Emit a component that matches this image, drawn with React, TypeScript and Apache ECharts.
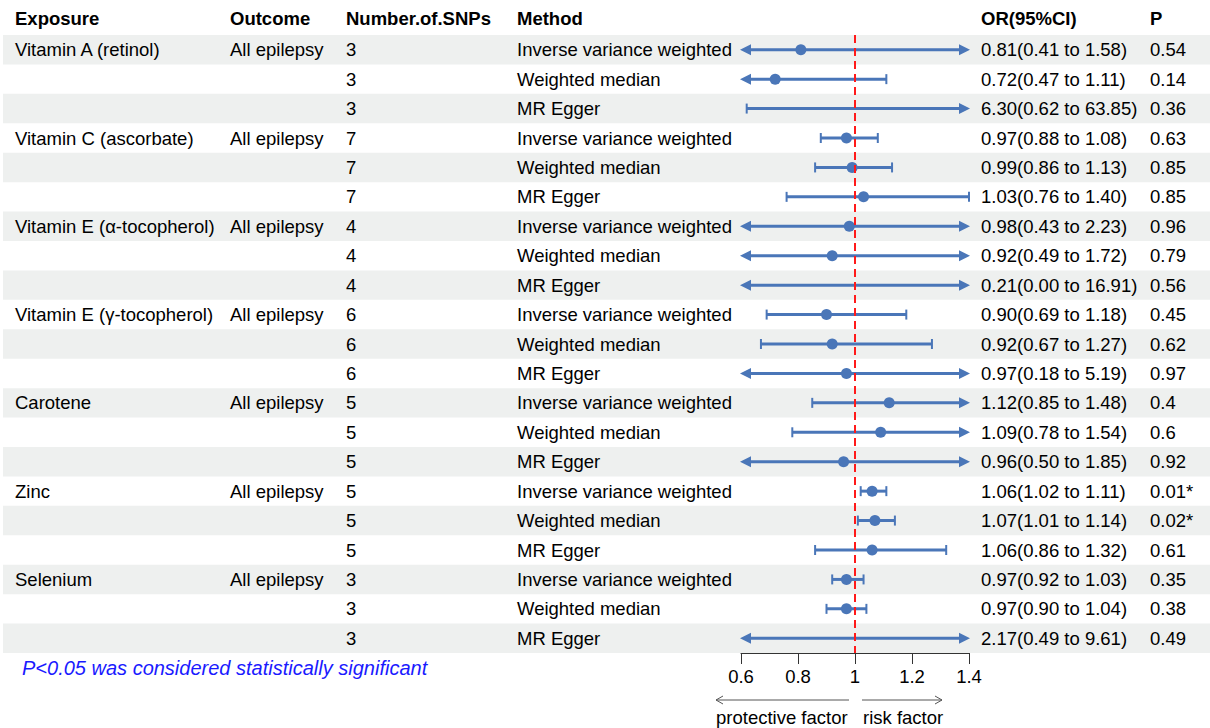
import React, { useEffect, useRef } from "react";
import * as echarts from "echarts";

const FONT = '"Liberation Sans", Arial, sans-serif';
const FS = 18.5;

const headers = ["Exposure", "Outcome", "Number.of.SNPs", "Method", "OR(95%CI)", "P"];

const exposures = [
  "Vitamin A (retinol)", "", "",
  "Vitamin C (ascorbate)", "", "",
  "Vitamin E (α-tocopherol)", "", "",
  "Vitamin E (γ-tocopherol)", "", "",
  "Carotene", "", "",
  "Zinc", "", "",
  "Selenium", "", "",
];
const outcomes = [
  "All epilepsy", "", "",
  "All epilepsy", "", "",
  "All epilepsy", "", "",
  "All epilepsy", "", "",
  "All epilepsy", "", "",
  "All epilepsy", "", "",
  "All epilepsy", "", "",
];
const nSNPs = [3, 3, 3, 7, 7, 7, 4, 4, 4, 6, 6, 6, 5, 5, 5, 5, 5, 5, 3, 3, 3];
const methods = [
  "Inverse variance weighted", "Weighted median", "MR Egger",
  "Inverse variance weighted", "Weighted median", "MR Egger",
  "Inverse variance weighted", "Weighted median", "MR Egger",
  "Inverse variance weighted", "Weighted median", "MR Egger",
  "Inverse variance weighted", "Weighted median", "MR Egger",
  "Inverse variance weighted", "Weighted median", "MR Egger",
  "Inverse variance weighted", "Weighted median", "MR Egger",
];
const orValues = [0.81, 0.72, 6.30, 0.97, 0.99, 1.03, 0.98, 0.92, 0.21, 0.90, 0.92, 0.97, 1.12, 1.09, 0.96, 1.06, 1.07, 1.06, 0.97, 0.97, 2.17];
const lowerCI = [0.41, 0.47, 0.62, 0.88, 0.86, 0.76, 0.43, 0.49, 0.00, 0.69, 0.67, 0.18, 0.85, 0.78, 0.50, 1.02, 1.01, 0.86, 0.92, 0.90, 0.49];
const upperCI = [1.58, 1.11, 63.85, 1.08, 1.13, 1.40, 2.23, 1.72, 16.91, 1.18, 1.27, 5.19, 1.48, 1.54, 1.85, 1.11, 1.14, 1.32, 1.03, 1.04, 9.61];
const pValues = ["0.54", "0.14", "0.36", "0.63", "0.85", "0.85", "0.96", "0.79", "0.56", "0.45", "0.62", "0.97", "0.4", "0.6", "0.92", "0.01*", "0.02*", "0.61", "0.35", "0.38", "0.49"];

const xMin = 0.6;
const xMax = 1.4;
const xInterval = 0.2;
const refValue = 1;

const colX = [15, 230, 346, 517, 981, 1150];
const BLUE = "#4a76b8";

export default function App() {
  const ref = useRef<HTMLDivElement>(null);
  useEffect(() => {
    if (!ref.current) return;
    const chart = echarts.init(ref.current, null, { renderer: "svg" });
    const rowIdx = methods.map((_, i) => String(i));
    const fmt = (v: number) => v.toFixed(2);

    const option: any = {
      animation: false,
      grid: { left: 741, width: 228, top: 35, height: 618 },
      xAxis: {
        type: "value",
        min: xMin,
        max: xMax,
        interval: xInterval,
        axisLine: { show: true, lineStyle: { color: "#333", width: 1 } },
        axisTick: { show: true, length: 11, lineStyle: { color: "#333", width: 1 } },
        axisLabel: {
          fontSize: FS,
          color: "#000",
          fontFamily: FONT,
          margin: 14,
          formatter: (v: number) => String(+v.toFixed(1)),
        },
        splitLine: { show: false },
      },
      yAxis: { type: "category", data: rowIdx, inverse: true, show: false },
      graphic: [
        ...headers.map((h, k) => ({
          type: "text",
          x: colX[k],
          y: 18,
          style: {
            text: h,
            font: `bold ${FS}px ${FONT}`,
            fill: "#000",
            verticalAlign: "middle",
            align: "left",
          },
        })),
        {
          type: "text",
          x: 22,
          y: 668,
          style: {
            text: "P<0.05 was considered statistically significant",
            font: `italic 20px ${FONT}`,
            fill: "#1a1aff",
            verticalAlign: "middle",
            align: "left",
          },
        },
        { type: "line", shape: { x1: 716, y1: 700, x2: 849, y2: 700 }, style: { stroke: "#555", lineWidth: 1 } },
        { type: "polyline", shape: { points: [[723, 696], [716, 700], [723, 704]] }, style: { stroke: "#555", lineWidth: 1, fill: null } },
        { type: "line", shape: { x1: 862, y1: 700, x2: 942, y2: 700 }, style: { stroke: "#555", lineWidth: 1 } },
        { type: "polyline", shape: { points: [[935, 696], [942, 700], [935, 704]] }, style: { stroke: "#555", lineWidth: 1, fill: null } },
        {
          type: "text",
          x: 716,
          y: 717,
          style: { text: "protective factor", font: `${FS}px ${FONT}`, fill: "#000", verticalAlign: "middle", align: "left" },
        },
        {
          type: "text",
          x: 863,
          y: 717,
          style: { text: "risk factor", font: `${FS}px ${FONT}`, fill: "#000", verticalAlign: "middle", align: "left" },
        },
      ],
      series: [
        {
          type: "custom",
          z: 1,
          silent: true,
          clip: false,
          data: methods.map((_, i) => [refValue, i]),
          encode: { x: 0, y: 1 },
          renderItem: (params: any, api: any) => {
            const i = params.dataIndex;
            const y = api.coord([refValue, i])[1];
            const h = api.size([0, 1])[1];
            const children: any[] = [];
            if (i % 2 === 0) {
              children.push({
                type: "rect",
                shape: { x: 3, y: y - h / 2, width: 1207, height: h },
                style: { fill: "#eef0ef" },
              });
            }
            const texts = [
              exposures[i],
              outcomes[i],
              String(nSNPs[i]),
              methods[i],
              `${fmt(orValues[i])}(${fmt(lowerCI[i])} to ${fmt(upperCI[i])})`,
              pValues[i],
            ];
            texts.forEach((t, k) => {
              if (!t) return;
              children.push({
                type: "text",
                style: {
                  text: t,
                  x: colX[k],
                  y: y,
                  font: `${FS}px ${FONT}`,
                  fill: "#000",
                  verticalAlign: "middle",
                  align: "left",
                },
              });
            });
            return { type: "group", children };
          },
        },
        {
          type: "custom",
          z: 3,
          silent: true,
          clip: false,
          data: methods.map((_, i) => [lowerCI[i], upperCI[i], i]),
          encode: { x: [0, 1], y: 2 },
          renderItem: (params: any, api: any) => {
            const i = params.dataIndex;
            const lo = lowerCI[i];
            const hi = upperCI[i];
            const leftClip = lo < xMin;
            const rightClip = hi > xMax;
            const y = api.coord([refValue, i])[1];
            const x1 = api.coord([leftClip ? xMin : lo, i])[0];
            const x2 = api.coord([rightClip ? xMax : hi, i])[0];
            const children: any[] = [];
            const ah = 10;
            const aw = 5.5;
            children.push({
              type: "line",
              shape: { x1: leftClip ? x1 + ah - 2 : x1, y1: y, x2: rightClip ? x2 - ah + 2 : x2, y2: y },
              style: { stroke: BLUE, lineWidth: 3 },
            });
            if (leftClip) {
              children.push({
                type: "polygon",
                shape: { points: [[x1 - 1, y], [x1 + ah, y - aw], [x1 + ah, y + aw]] },
                style: { fill: BLUE },
              });
            } else {
              children.push({
                type: "line",
                shape: { x1: x1, y1: y - 5, x2: x1, y2: y + 5 },
                style: { stroke: BLUE, lineWidth: 2 },
              });
            }
            if (rightClip) {
              children.push({
                type: "polygon",
                shape: { points: [[x2 + 1, y], [x2 - ah, y - aw], [x2 - ah, y + aw]] },
                style: { fill: BLUE },
              });
            } else {
              children.push({
                type: "line",
                shape: { x1: x2, y1: y - 5, x2: x2, y2: y + 5 },
                style: { stroke: BLUE, lineWidth: 2 },
              });
            }
            return { type: "group", children };
          },
        },
        {
          type: "scatter",
          z: 4,
          silent: true,
          symbol: "circle",
          symbolSize: 11,
          itemStyle: { color: BLUE, opacity: 1 },
          data: orValues.map((v, i) => (v >= xMin && v <= xMax ? [v, i] : [null, i])),
          markLine: {
            silent: true,
            symbol: ["none", "none"],
            label: { show: false },
            lineStyle: { color: "#ff1a1a", type: [8, 5], width: 2 },
            data: [{ xAxis: refValue }],
          },
        },
      ],
    };
    chart.setOption(option);
    return () => chart.dispose();
  }, []);
  return (
    <div
      ref={ref}
      style={{ position: "fixed", left: 0, top: 0, width: 1210, height: 728, background: "#fff" }}
    />
  );
}
